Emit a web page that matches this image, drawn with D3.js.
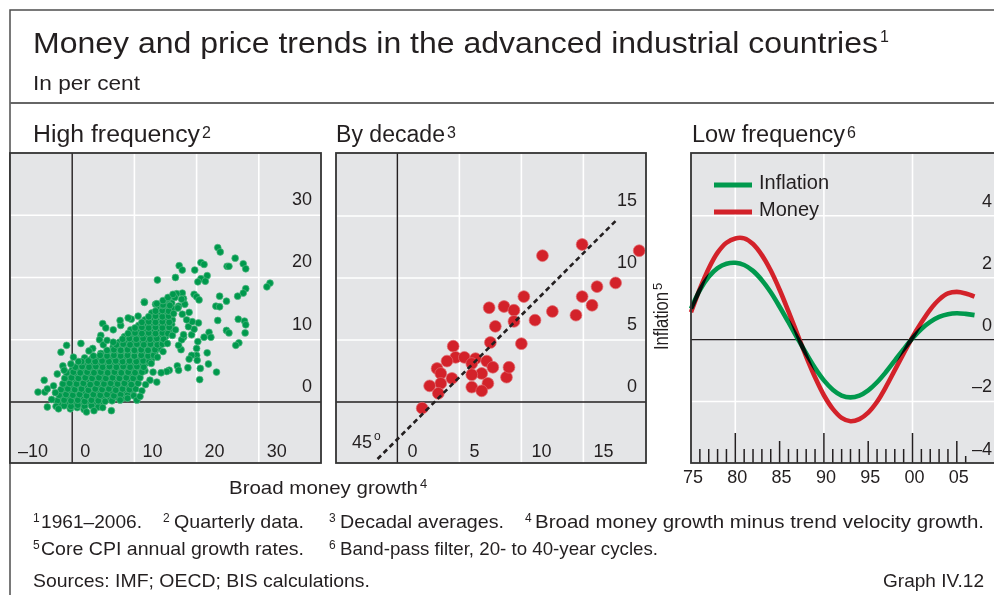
<!DOCTYPE html>
<html>
<head>
<meta charset="utf-8">
<script src="https://cdn.jsdelivr.net/npm/d3@7"></script>
<style>
  body { margin: 0; background: #fff; }
  svg { display: block; font-family: "Liberation Sans", Arial, sans-serif; }
  text { fill: #231f20; }
</style>
</head>
<body>
<svg id="chart" width="994" height="595"></svg>
<script>
// ---------- data ----------

// High frequency panel: quarterly money growth (x) vs inflation (y)
// dense core of the cloud
const hfCore = [
  [-0.3,-1.1],[0.8,-0.9],[1.9,-1.2],
  [-1.9,-0.3],[-0.8,-0.1],[0.3,-0.4],[1.4,-0.2],[2.5,-0.1],[3.6,-0.4],[4.7,-0.2],
  [-1.6,0.8],[-0.5,0.6],[0.6,0.9],[1.7,0.5],[2.8,0.8],[3.9,0.6],[5.0,0.9],[6.1,0.5],[7.2,0.8],[8.1,0.6],
  [-1.3,1.5],[-0.2,1.8],[0.9,1.5],[2.0,1.7],[3.1,1.4],[4.2,1.8],[5.3,1.6],[6.4,1.4],[7.5,1.7],[8.6,1.5],[9.7,1.8],
  [-1.0,2.6],[0.1,2.4],[1.2,2.7],[2.3,2.4],[3.4,2.6],[4.5,2.3],[5.6,2.7],[6.7,2.5],[7.8,2.3],[8.9,2.6],[10.0,2.4],
  [-0.7,3.3],[0.4,3.6],[1.5,3.3],[2.6,3.5],[3.7,3.2],[4.8,3.6],[5.9,3.4],[7.0,3.2],[8.1,3.5],[9.2,3.3],[10.3,3.6],
  [-0.4,4.4],[0.7,4.2],[1.8,4.5],[2.9,4.1],[4.0,4.4],[5.1,4.2],[6.2,4.5],[7.3,4.3],[8.4,4.1],[9.5,4.4],[10.6,4.2],
  [0.0,5.1],[1.1,5.4],[2.2,5.0],[3.3,5.3],[4.4,5.1],[5.5,5.4],[6.6,5.2],[7.7,5.0],[8.8,5.3],[9.9,5.1],[11.0,5.4],[11.7,5.0],
  [1.1,6.0],[2.2,6.3],[3.3,6.1],[4.4,5.9],[5.5,6.2],[6.6,6.0],[7.7,6.3],[8.8,5.9],[9.9,6.2],[11.0,6.0],[12.0,6.3],
  [2.0,7.1],[3.1,6.9],[4.2,7.2],[5.3,6.8],[6.4,7.1],[7.5,6.9],[8.6,7.2],[9.7,7.0],[10.8,6.8],[11.9,7.1],[12.8,6.9],
  [4.6,7.8],[5.7,8.1],[6.8,7.8],[7.9,8.0],[9.0,7.7],[10.1,8.1],[11.2,7.9],[12.3,7.7],[13.3,8.0],
  [6.6,8.9],[7.7,8.6],[8.8,8.9],[9.9,8.7],[11.0,9.0],[12.1,8.7],[13.2,8.9],[14.0,8.6],
  [7.6,9.6],[8.7,9.9],[9.8,9.6],[10.9,9.8],[12.0,9.5],[13.1,9.8],[14.3,9.6],
  [8.4,10.5],[9.5,10.8],[10.6,10.4],[11.7,10.7],[12.8,10.5],[13.9,10.8],[15.0,10.5],
  [9.4,11.6],[10.5,11.3],[11.6,11.6],[12.7,11.4],[13.8,11.7],[14.9,11.4],[15.6,11.6],
  [10.7,12.3],[11.8,12.6],[12.9,12.3],[14.0,12.5],[15.1,12.2],[16.0,12.5],
  [11.7,13.2],[12.8,13.4],[13.9,13.1],[15.0,13.4],[16.1,13.2],
  [12.8,14.3],[13.9,14.0],[15.0,14.3],[16.0,14.1],
  [14.0,15.0],[15.1,15.3],[16.1,15.0],
  [15.0,16.1],[16.0,15.9]
];
// points sitting between the rows above
const hfFill = [
  [-1.3,-0.6],[-0.2,-0.7],[0.9,-0.5],[2.0,-0.7],[3.1,-0.6],[4.2,-0.8],
  [-2.4,0.2],[-1.3,0.3],[-0.2,0.2],[0.9,0.3],[2.0,0.1],[3.1,0.3],[4.2,0.2],[5.3,0.1],[6.4,0.2],
  [-2.1,1.1],[-1.0,1.2],[0.1,1.1],[1.2,1.2],[2.3,1.0],[3.4,1.2],[4.5,1.1],[5.6,1.2],[6.7,1.0],[7.8,1.2],[8.9,1.1],[9.9,1.0],
  [-1.8,2.0],[-0.7,2.1],[0.4,2.0],[1.5,2.1],[2.6,1.9],[3.7,2.1],[4.8,2.0],[5.9,2.1],[7.0,1.9],[8.1,2.1],[9.2,2.0],[10.2,2.1],
  [-1.5,2.9],[-0.4,3.0],[0.7,2.9],[1.8,3.0],[2.9,2.8],[4.0,3.0],[5.1,2.9],[6.2,3.0],[7.3,2.9],[8.4,3.0],[9.5,2.8],[10.6,3.0],
  [-1.2,3.8],[-0.1,3.9],[1.0,3.8],[2.1,3.9],[3.2,3.8],[4.3,3.9],[5.4,3.8],[6.5,3.9],[7.6,3.8],[8.7,3.9],[9.8,3.8],[10.9,3.9],
  [-0.9,4.7],[0.2,4.8],[1.3,4.7],[2.4,4.8],[3.5,4.7],[4.6,4.8],[5.7,4.7],[6.8,4.8],[7.9,4.7],[9.0,4.8],[10.1,4.7],[11.2,4.8],
  [0.5,5.6],[1.6,5.7],[2.7,5.6],[3.8,5.7],[4.9,5.6],[6.0,5.7],[7.1,5.6],[8.2,5.7],[9.3,5.6],[10.4,5.7],[11.5,5.6],
  [1.5,6.5],[2.6,6.6],[3.7,6.5],[4.8,6.6],[5.9,6.5],[7.0,6.6],[8.1,6.5],[9.2,6.6],[10.3,6.5],[11.4,6.6],[12.4,6.5],
  [3.4,7.4],[4.5,7.5],[5.6,7.4],[6.7,7.5],[7.8,7.4],[8.9,7.5],[10.0,7.4],[11.1,7.5],[12.2,7.4],[13.1,7.5],
  [5.6,8.3],[6.7,8.4],[7.8,8.3],[8.9,8.4],[10.0,8.3],[11.1,8.4],[12.2,8.3],[13.3,8.4],
  [7.1,9.2],[8.2,9.3],[9.3,9.2],[10.4,9.3],[11.5,9.2],[12.6,9.3],[13.7,9.2],[14.5,9.3],
  [8.1,10.1],[9.2,10.2],[10.3,10.1],[11.4,10.2],[12.5,10.1],[13.6,10.2],[14.7,10.1],
  [9.0,11.0],[10.1,11.1],[11.2,11.0],[12.3,11.1],[13.4,11.0],[14.5,11.1],[15.4,11.0],
  [10.1,11.9],[11.2,12.0],[12.3,11.9],[13.4,12.0],[14.5,11.9],[15.6,12.0],
  [11.2,12.8],[12.3,12.9],[13.4,12.8],[14.5,12.9],[15.6,12.8],
  [12.3,13.7],[13.4,13.8],[14.5,13.7],[15.5,13.8],
  [13.4,14.6],[14.5,14.7],[15.5,14.6],
  [14.5,15.5],[15.6,15.6]
];
// scattered quarters around the core
const hfOuter = [
  [23.4,24.8],[23.8,24.1],[26.2,23.1],[27.5,22.2],[27.9,21.4],[24.9,21.8],[25.2,21.8],[20.7,22.4],
  [21.2,22.1],[17.2,21.9],[17.7,21.2],[19.7,21.2],[21.7,20.3],[20.7,19.8],[20.2,19.3],[21.4,19.4],
  [16.6,20.0],[13.7,19.6],[31.8,19.1],[31.3,18.5],[27.9,18.2],[27.5,17.5],[26.6,17.0],[23.7,17.0],
  [24.8,16.2],[23.1,15.4],[23.7,15.3],[19.6,17.3],[20.0,16.9],[20.4,16.4],[17.7,17.5],[16.8,17.4],
  [16.5,16.8],[17.9,16.6],[18.1,15.7],[17.1,15.4],[11.6,16.1],[13.4,15.7],[14.6,15.6],[15.4,16.6],
  [23.4,13.1],[20.3,12.7],[26.7,13.3],[27.7,13.0],[27.9,12.4],[27.8,11.1],[24.8,11.5],[25.2,11.1],
  [22.0,11.2],[22.3,10.4],[21.2,10.4],[19.2,10.8],[19.6,11.7],[18.7,12.1],[17.9,10.4],[19.3,12.9],
  [26.8,9.5],[26.3,9.1],[20.0,8.6],[20.2,9.7],[21.7,7.9],[20.0,7.5],[20.1,6.7],[19.2,7.5],
  [21.9,6.1],[20.6,5.4],[23.2,4.8],[20.5,3.6],[17.5,8.4],[18.8,6.9],[18.6,5.5],[16.9,5.8],
  [17.1,5.1],[15.6,5.1],[15.2,4.9],[14.3,4.7],[13.0,4.8],[12.5,3.5],[13.6,3.2],[17.6,10.0],
  [17.9,10.8],[18.8,14.4],[16.3,14.2],[13.6,15.8],[17.1,9.1],[15.7,15.5],[17.0,15.1],[17.7,14.1],
  [18.4,13.2],[4.9,12.6],[-0.9,9.1],[1.4,9.4],[-1.8,8.0],[-1.5,5.8],[-1.3,5.1],[-2.4,4.5],
  [-4.5,3.5],[-5.5,1.6],[-4.4,1.6],[-4.0,2.1],[-2.7,1.5],[-4.0,-0.8],[-2.6,-0.7],[6.3,-1.4],
  [4.9,-0.9],[7.7,0.3],[10.4,0.3],[1.0,6.5],[4.6,10.7],[5.4,11.9],[6.6,11.6],[7.8,12.3],
  [9.5,13.3],[4.4,10.0],[5.0,9.2],[3.3,8.6],[5.6,9.9],[6.6,9.6],[2.7,8.2],[7.7,13.1],
  [9.0,13.5],[10.6,13.8],[11.6,16.0],[14.6,16.3],[15.4,16.8],[16.2,17.3],[17.6,16.5],[11.2,1.8],
  [11.8,2.8],[10.9,0.9],[-3.3,0.4],[-2.2,-1.1],[2.3,-1.6],[3.5,-1.4],[8.9,0.6],[-3.0,2.6],
  [0.2,7.2],[-0.2,6.1],[12.7,6.2],[13.7,7.2],[14.6,8.1],[15.3,9.4],[16.1,10.7],[16.6,11.6]
];
const hfTicksX = [-10, 0, 10, 20, 30];
const hfTicksY = [0, 10, 20, 30];

// By decade panel: decadal averages
const decadePoints = [
  [19.5,12.2],[14.9,12.7],[11.7,11.8],[17.6,9.6],[16.1,9.3],[14.9,8.5],[15.7,7.8],[14.4,7.0],
  [12.5,7.3],[11.1,6.6],[10.2,8.5],[8.6,7.7],[7.4,7.6],[9.4,7.4],[9.4,6.5],[7.9,6.1],
  [7.5,4.8],[10.0,4.7],[4.5,4.5],[4.7,3.6],[5.4,3.6],[4.0,3.3],[3.2,2.7],[3.5,2.3],
  [4.4,1.9],[3.5,1.5],[2.6,1.3],[3.3,0.7],[2.0,-0.5],[6.3,3.5],[6.0,3.1],[7.2,3.3],
  [7.7,2.8],[6.8,2.3],[6.0,2.2],[7.3,1.5],[6.0,1.2],[6.8,0.9],[8.8,2.0],[9.0,2.8]
];
const decadeLine = [[-1.6, -4.6], [17.6, 14.6]];
const decadeTicksX = [0, 5, 10, 15];
const decadeTicksY = [0, 5, 10, 15];

// Low frequency panel: band-pass filtered series
const lowYears = [1975,1976,1977,1978,1979,1980,1981,1982,1983,1984,1985,1986,1987,1988,1989,1990,
  1991,1992,1993,1994,1995,1996,1997,1998,1999,2000,2001,2002,2003,2004,2005,2006,2007];
const lowInflation = [1.00,1.60,2.03,2.31,2.45,2.48,2.41,2.22,1.92,1.53,1.06,0.56,0.05,-0.45,-0.92,-1.32,
  -1.62,-1.81,-1.87,-1.81,-1.64,-1.38,-1.05,-0.68,-0.31,0.04,0.34,0.57,0.73,0.82,0.85,0.83,0.79];
const lowMoney = [0.88,1.64,2.30,2.81,3.13,3.27,3.27,3.09,2.73,2.23,1.61,0.91,0.18,-0.55,-1.22,-1.80,
  -2.24,-2.53,-2.64,-2.57,-2.36,-2.01,-1.53,-0.99,-0.45,0.08,0.55,0.97,1.29,1.49,1.54,1.49,1.39];
const seriesNames = ['Inflation', 'Money'];
const lowTicksY = [-4, -2, 0, 2, 4];
const lowLabelYears = [1975, 1980, 1985, 1990, 1995, 2000, 2005];
const lowTickYears = [1976,1977,1978,1979,1980,1981,1982,1983,1984,1985,1986,1987,1988,1989,1990,
  1991,1992,1993,1994,1995,1996,1997,1998,1999,2000,2001,2002,2003,2004,2005,2006];

const footnotes = [
  ['1', '1961–2006.'], ['2', 'Quarterly data.'], ['3', 'Decadal averages.'],
  ['4', 'Broad money growth minus trend velocity growth.'],
  ['5', 'Core CPI annual growth rates.'], ['6', 'Band-pass filter, 20- to 40-year cycles.']
];

// ---------- layout ----------
const GREEN = '#00994d', RED = '#d3222a', BG = '#e4e5e7', INK = '#231f20';
const PANEL_TOP = 153, PANEL_H = 310;

const svg = d3.select('#chart');

// text with an optional superscript; textLength squeezes to the reference width
function label(g, x, y, main, size, len, sup, supSize, raise) {
    const t = g.append('text').attr('x', x).attr('y', y)
        .style('font-size', size + 'px').text(main);
    if (len) t.attr('textLength', len).attr('lengthAdjust', 'spacingAndGlyphs');
    if (sup) {
        const w = len || t.node().getComputedTextLength();
        g.append('text').attr('x', x + w + 2).attr('y', y - raise)
            .style('font-size', supSize + 'px').text(sup);
    }
    return t;
}

// outer box
svg.append('path')
    .attr('d', 'M994,10H10V595')
    .attr('fill', 'none').attr('stroke', '#4d4d4d').attr('stroke-width', 1.5);
svg.append('line')
    .attr('x1', 10).attr('x2', 994).attr('y1', 103).attr('y2', 103)
    .attr('stroke', '#666').attr('stroke-width', 2);

label(svg, 33, 53, 'Money and price trends in the advanced industrial countries', 29, 845, '1', 16, 11);
label(svg, 33, 90, 'In per cent', 21, 107);

class ScatterPanel {
    constructor(_config, _data) {
        this.config = {
            left: _config.left,
            width: _config.width,
            xDomain: _config.xDomain,
            yDomain: _config.yDomain,
            xTicks: _config.xTicks,
            yTicks: _config.yTicks,
            radius: _config.radius,
            fill: _config.fill,
            stroke: _config.stroke,
            xLabelDx: _config.xLabelDx || 8
        };
        this.data = _data;
        this.initVis();
    }

    initVis() {
        let vis = this;
        const c = vis.config;
        vis.chart = svg.append('g').attr('transform', `translate(${c.left},${PANEL_TOP})`);
        vis.xScale = d3.scaleLinear().domain(c.xDomain).range([0, c.width]);
        vis.yScale = d3.scaleLinear().domain(c.yDomain).range([PANEL_H, 0]);

        vis.chart.append('rect').attr('width', c.width).attr('height', PANEL_H).attr('fill', BG);

        // white grid, black zero lines
        const gx = c.xTicks.filter(d => d !== c.xDomain[0]);
        vis.chart.selectAll('.vgrid').data(gx).join('line')
            .attr('x1', d => vis.xScale(d)).attr('x2', d => vis.xScale(d))
            .attr('y1', 0).attr('y2', PANEL_H)
            .attr('stroke', d => d === 0 ? INK : '#fff')
            .attr('stroke-width', d => d === 0 ? 1.4 : 1.6);
        vis.chart.selectAll('.hgrid').data(c.yTicks).join('line')
            .attr('x1', 0).attr('x2', c.width)
            .attr('y1', d => vis.yScale(d)).attr('y2', d => vis.yScale(d))
            .attr('stroke', d => d === 0 ? INK : '#fff')
            .attr('stroke-width', d => d === 0 ? 1.4 : 1.6);
        // keep zero lines above the white ones
        vis.chart.selectAll('line').filter(d => d === 0).raise();

        vis.renderVis();
    }

    renderVis() {
        let vis = this;
        const c = vis.config;

        vis.chart.selectAll('.dot').data(vis.data).join('circle')
            .attr('class', 'dot')
            .attr('cx', d => vis.xScale(d[0]))
            .attr('cy', d => vis.yScale(d[1]))
            .attr('r', c.radius)
            .attr('fill', c.fill)
            .attr('stroke', c.stroke)
            .attr('stroke-width', 0.7);

        vis.chart.selectAll('.ylab').data(c.yTicks).join('text')
            .attr('class', 'ylab')
            .attr('x', c.width - 9)
            .attr('y', d => vis.yScale(d) - 10)
            .attr('text-anchor', 'end')
            .style('font-size', '18px')
            .text(d => d < 0 ? '\u2013' + Math.abs(d) : d);

        vis.chart.selectAll('.xlab').data(c.xTicks).join('text')
            .attr('class', 'xlab')
            .attr('x', d => vis.xScale(d) + c.xLabelDx)
            .attr('y', PANEL_H - 6)
            .style('font-size', '18px')
            .text(d => d < 0 ? '\u2013' + Math.abs(d) : d);
    }

    drawBorder() {
        this.chart.append('rect')
            .attr('width', this.config.width).attr('height', PANEL_H)
            .attr('fill', 'none').attr('stroke', '#333').attr('stroke-width', 1.8);
    }
}

// ---------- panel 1: high frequency ----------
label(svg, 33, 142, 'High frequency', 23, 167, '2', 16, 4);
const hf = new ScatterPanel({
    left: 10, width: 311,
    xDomain: [-10, 40], yDomain: [-9.8, 40],
    xTicks: hfTicksX, yTicks: hfTicksY,
    radius: 3.4, fill: GREEN, stroke: '#4fb67f', xLabelDx: 8
}, hfCore.concat(hfFill, hfOuter));
hf.drawBorder();

// ---------- panel 2: by decade ----------
label(svg, 336, 142, 'By decade', 23, 109, '3', 16, 4);
const dec = new ScatterPanel({
    left: 336, width: 310,
    xDomain: [-4.95, 20.05], yDomain: [-4.92, 20.08],
    xTicks: decadeTicksX, yTicks: decadeTicksY,
    radius: 5.9, fill: RED, stroke: '#e06a70', xLabelDx: 10
}, decadePoints);

dec.chart.append('path')
    .datum(decadeLine)
    .attr('d', d3.line().x(d => dec.xScale(d[0])).y(d => dec.yScale(d[1])))
    .attr('fill', 'none').attr('stroke', INK)
    .attr('stroke-width', 2.6).attr('stroke-dasharray', '5,3.5');
label(dec.chart, 16, 295, '45', 18, null, 'o', 12, 8);
dec.drawBorder();

label(svg, 229, 494, 'Broad money growth', 19, 189, '4', 13, 6);

// ---------- panel 3: low frequency ----------
label(svg, 692, 142, 'Low frequency', 23, 153, '6', 16, 4);

const low = {};
low.chart = svg.append('g').attr('transform', `translate(691,${PANEL_TOP})`);
low.width = 311;
low.xScale = d3.scaleLinear().domain([1975, 2010.1]).range([0, low.width]);
low.yScale = d3.scaleLinear().domain([-3.99, 6.03]).range([PANEL_H, 0]);

low.chart.append('rect').attr('width', low.width).attr('height', PANEL_H).attr('fill', BG);
low.chart.selectAll('.vgrid').data(lowLabelYears.filter(d => d % 10 === 0)).join('line')
    .attr('x1', d => low.xScale(d)).attr('x2', d => low.xScale(d))
    .attr('y1', 0).attr('y2', PANEL_H)
    .attr('stroke', '#fff').attr('stroke-width', 1.6);
low.chart.selectAll('.hgrid').data(lowTicksY.filter(d => d !== 0 && d !== -4)).join('line')
    .attr('x1', 0).attr('x2', low.width)
    .attr('y1', d => low.yScale(d)).attr('y2', d => low.yScale(d))
    .attr('stroke', '#fff').attr('stroke-width', 1.6);
low.chart.append('line')
    .attr('x1', 0).attr('x2', low.width)
    .attr('y1', low.yScale(0)).attr('y2', low.yScale(0))
    .attr('stroke', INK).attr('stroke-width', 1.2);

// year ticks rising from the bottom edge
const lastTick = lowTickYears[lowTickYears.length - 1];
low.chart.selectAll('.ytick').data(lowTickYears).join('line')
    .attr('x1', d => low.xScale(d)).attr('x2', d => low.xScale(d))
    .attr('y1', PANEL_H)
    .attr('y2', d => PANEL_H - (d === lastTick ? 7 : d % 10 === 0 ? 30 : d % 5 === 0 ? 22 : 14))
    .attr('stroke', INK).attr('stroke-width', 1.5);

// curves, multiplied so the overlaps turn dark as in print
const lineGen = (vals) => d3.line()
    .x((d, i) => low.xScale(lowYears[i]))
    .y(d => low.yScale(d))
    .curve(d3.curveCatmullRom.alpha(0.5))(vals);
const curves = low.chart.append('g').style('isolation', 'isolate');
curves.append('path').attr('d', lineGen(lowInflation))
    .attr('fill', 'none').attr('stroke', GREEN).attr('stroke-width', 4.6)
    .style('mix-blend-mode', 'multiply');
curves.append('path').attr('d', lineGen(lowMoney))
    .attr('fill', 'none').attr('stroke', RED).attr('stroke-width', 4.6)
    .style('mix-blend-mode', 'multiply');

// legend
const legend = low.chart.selectAll('.legend').data(seriesNames).join('g')
    .attr('class', 'legend')
    .attr('transform', (d, i) => `translate(23,${32 + i * 27})`);
legend.append('line')
    .attr('x1', 0).attr('x2', 38)
    .attr('stroke', (d, i) => i === 0 ? GREEN : RED).attr('stroke-width', 5);
legend.append('text')
    .attr('x', 45).attr('y', 3.5)
    .style('font-size', '20px')
    .text(d => d);

low.chart.selectAll('.ylab').data(lowTicksY).join('text')
    .attr('class', 'ylab')
    .attr('x', low.width - 10)
    .attr('y', d => d === -4 ? PANEL_H - 8 : low.yScale(d) - 9)
    .attr('text-anchor', 'end')
    .style('font-size', '18px')
    .text(d => d < 0 ? '\u2013' + Math.abs(d) : d);

low.chart.selectAll('.xlab').data(lowLabelYears).join('text')
    .attr('class', 'xlab')
    .attr('x', d => low.xScale(d) + 2)
    .attr('y', PANEL_H + 20)
    .attr('text-anchor', 'middle')
    .style('font-size', '18px')
    .text(d => d3.format('02')(d % 100));

low.chart.append('rect')
    .attr('width', low.width).attr('height', PANEL_H)
    .attr('fill', 'none').attr('stroke', '#333').attr('stroke-width', 1.8);

// rotated axis title between panels 2 and 3
const rot = svg.append('g').attr('transform', 'translate(668,350) rotate(-90)');
label(rot, 0, 0, 'Inflation', 20, 58, '5', 13, 6);

// ---------- footnotes ----------
const noteX = [[33, 41, 101], [163, 174, 130], [329, 340, 164], [525, 535, 449],
               [33, 41, 263], [329, 340, 318]];
footnotes.forEach((f, i) => {
    const y = i < 4 ? 528 : 555;
    svg.append('text').attr('x', noteX[i][0]).attr('y', y - 6)
        .style('font-size', '12px').text(f[0]);
    label(svg, noteX[i][1], y, f[1], 19, noteX[i][2]);
});
label(svg, 33, 587, 'Sources: IMF; OECD; BIS calculations.', 19, 337);
label(svg, 883, 587, 'Graph IV.12', 19, 101);
</script>
</body>
</html>
